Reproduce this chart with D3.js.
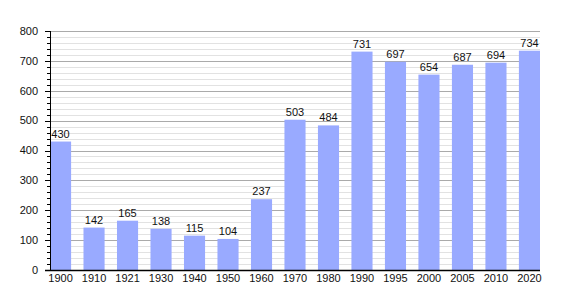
<!DOCTYPE html>
<html>
<head>
<meta charset="utf-8">
<script src="https://cdn.jsdelivr.net/npm/d3@7"></script>
<style>
  body { margin: 0; background: #fff; }
  text { font-family: "Liberation Sans", Arial, sans-serif; }
</style>
</head>
<body>
<script>
const years = ["1900", "1910", "1921", "1930", "1940", "1950", "1960", "1970", "1980", "1990", "1995", "2000", "2005", "2010", "2020"];
const population = [430, 142, 165, 138, 115, 104, 237, 503, 484, 731, 697, 654, 687, 694, 734];
const yTicks = [0, 100, 200, 300, 400, 500, 600, 700, 800];

const width = 570;
const height = 300;
const margin = { top: 31, right: 30, bottom: 30, left: 50 };
const innerWidth = width - margin.left - margin.right;
const innerHeight = height - margin.top - margin.bottom;

const svg = d3.select("body").append("svg")
  .attr("width", width)
  .attr("height", height);

const g = svg.append("g")
  .attr("transform", `translate(${margin.left},${margin.top})`);

const x = d3.scaleBand()
  .domain(years)
  .range([0, innerWidth])
  .paddingInner(0.37)
  .paddingOuter(0);

const y = d3.scaleLinear()
  .domain([0, 800])
  .range([innerHeight, 0]);

// minor grid every 20
g.append("g")
  .selectAll("line")
  .data(d3.range(20, 800, 20).filter(v => v % 100 !== 0))
  .join("line")
  .attr("x1", 0)
  .attr("x2", innerWidth)
  .attr("y1", d => Math.round(y(d)) + 0.5)
  .attr("y2", d => Math.round(y(d)) + 0.5)
  .attr("stroke", "#e2e2e2")
  .attr("stroke-width", 1);

// major grid
g.append("g")
  .selectAll("line")
  .data(yTicks.filter(v => v > 0))
  .join("line")
  .attr("x1", 0)
  .attr("x2", innerWidth)
  .attr("y1", d => Math.round(y(d)) + 0.5)
  .attr("y2", d => Math.round(y(d)) + 0.5)
  .attr("stroke", "#aaaaaa")
  .attr("stroke-width", 1);

// bars
g.selectAll("rect.bar")
  .data(population)
  .join("rect")
  .attr("class", "bar")
  .attr("x", (d, i) => x(years[i]))
  .attr("y", d => y(d))
  .attr("width", x.bandwidth())
  .attr("height", d => innerHeight - y(d))
  .attr("fill", "#99aaff");

// value labels
g.selectAll("text.val")
  .data(population)
  .join("text")
  .attr("class", "val")
  .attr("x", (d, i) => x(years[i]) + x.bandwidth() / 2)
  .attr("y", d => y(d) - 4)
  .attr("text-anchor", "middle")
  .attr("font-size", 11)
  .attr("fill", "#111")
  .text(d => d);

// y axis ticks (minor every 20)
g.append("g")
  .selectAll("line")
  .data(d3.range(0, 801, 20))
  .join("line")
  .attr("x1", d => d % 100 === 0 ? -5 : -3)
  .attr("x2", 0)
  .attr("y1", d => Math.round(y(d)) + 0.5)
  .attr("y2", d => Math.round(y(d)) + 0.5)
  .attr("stroke", "#000");

// y axis line
g.append("line")
  .attr("x1", 0.5).attr("x2", 0.5)
  .attr("y1", 0).attr("y2", innerHeight)
  .attr("stroke", "#000");

// y tick labels
g.append("g")
  .selectAll("text")
  .data(yTicks)
  .join("text")
  .attr("x", -12)
  .attr("y", d => y(d))
  .attr("dy", "0.35em")
  .attr("text-anchor", "end")
  .attr("font-size", 11)
  .attr("fill", "#111")
  .text(d => d);

// x axis line
g.append("line")
  .attr("x1", -5).attr("x2", innerWidth)
  .attr("y1", innerHeight + 0.5).attr("y2", innerHeight + 0.5)
  .attr("stroke", "#000")
  .attr("stroke-width", 1.5);

// x labels
g.append("g")
  .selectAll("text")
  .data(years)
  .join("text")
  .attr("x", d => x(d) + x.bandwidth() / 2)
  .attr("y", innerHeight + 12)
  .attr("text-anchor", "middle")
  .attr("font-size", 11)
  .attr("fill", "#111")
  .text(d => d);
</script>
</body>
</html>
